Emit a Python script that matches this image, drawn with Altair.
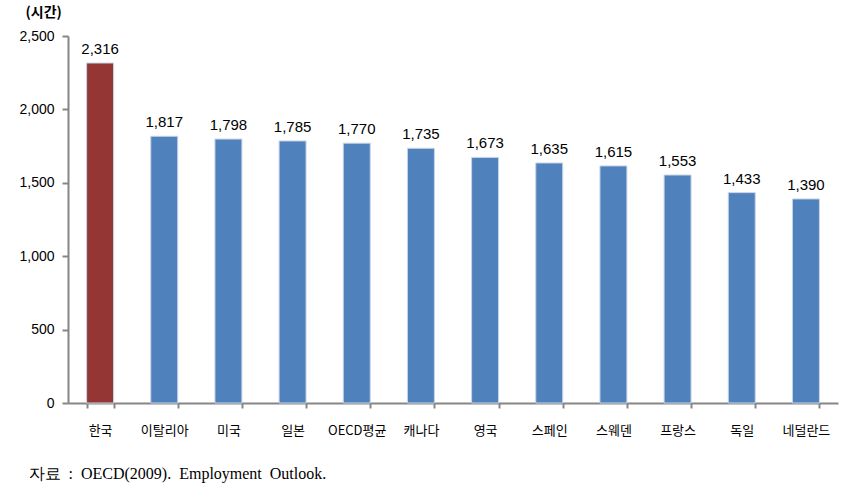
import altair as alt
import pandas as pd

countries = ["한국", "이탈리아", "미국", "일본", "OECD평균", "캐나다", "영국", "스페인", "스웨덴", "프랑스", "독일", "네덜란드"]
hours = [2316, 1817, 1798, 1785, 1770, 1735, 1673, 1635, 1615, 1553, 1433, 1390]
highlight = ["y", "n", "n", "n", "n", "n", "n", "n", "n", "n", "n", "n"]
source = "자료\u00a0\u00a0:\u00a0\u00a0OECD(2009).\u00a0\u00a0Employment\u00a0\u00a0Outlook."

df = pd.DataFrame({"country": countries, "hours": hours, "hl": highlight})

x = alt.X("country:N", sort=countries,
          scale=alt.Scale(paddingInner=0.58, paddingOuter=0.29),
          axis=alt.Axis(title=source,
                        titleFont="Liberation Serif", titleFontSize=16, titleFontWeight="normal",
                        titleColor="#000", titleAnchor="start", titleAlign="left",
                        titleBaseline="middle", titleX=-40, titleY=70,
                        labelAngle=0, labelFont="Noto Sans CJK KR", labelFontSize=13,
                        labelColor="#000", labelPadding=16, tickBand="extent",
                        domainColor="#868686", domainWidth=2, tickColor="#868686",
                        tickWidth=2, tickSize=5))
y = alt.Y("hours:Q", scale=alt.Scale(domain=[0, 2500], nice=False),
          axis=alt.Axis(title="(시간)", titleAngle=0, titleX=-43, titleY=-24,
                        titleAlign="left", titleBaseline="middle", titleFont="Noto Sans CJK KR",
                        titleFontSize=14, titleFontWeight="bold", titleColor="#000",
                        values=[0, 500, 1000, 1500, 2000, 2500], format=",d",
                        labelFont="Liberation Sans", labelFontSize=14, labelColor="#000",
                        labelPadding=8, grid=False, domainColor="#868686", domainWidth=2,
                        tickColor="#868686", tickWidth=2, tickSize=6))

bars = alt.Chart(df).mark_bar(stroke="#c8d4e6", strokeWidth=1).encode(
    x=x, y=y,
    color=alt.Color("hl:N", scale=alt.Scale(domain=["y", "n"], range=["#943634", "#4F81BD"]), legend=None),
)
labels = alt.Chart(df).mark_text(baseline="bottom", dy=-6, fontSize=15, font="Liberation Sans", color="#000").encode(
    x=alt.X("country:N", sort=countries), y="hours:Q", text=alt.Text("hours:Q", format=",d"))

chart = alt.layer(bars, labels).properties(
    width=770, height=367,
    autosize=alt.AutoSizeParams(type="none"),
    padding={"left": 68, "top": 36, "right": 8, "bottom": 97},
).configure_view(stroke=None)

chart.save("out.html", embed_options={"renderer": "svg", "actions": False})
